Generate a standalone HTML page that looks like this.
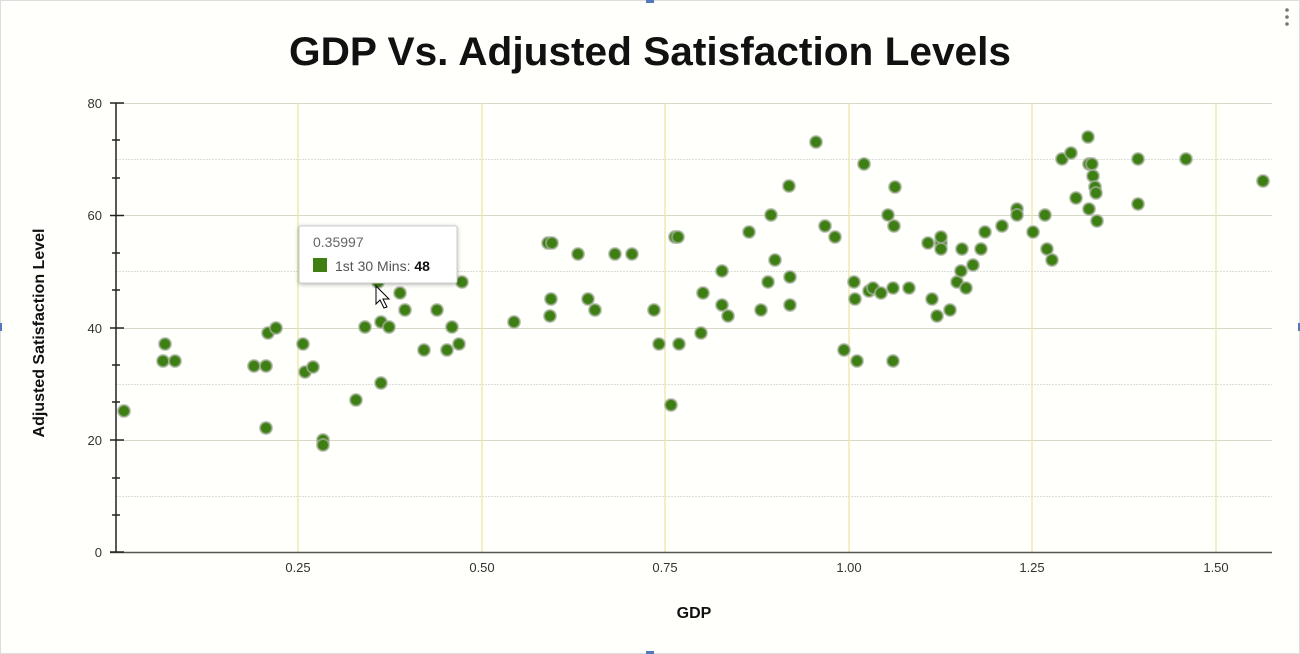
<!DOCTYPE html>
<html><head><meta charset="utf-8"><style>
html,body{margin:0;padding:0;background:#fff;}
body{width:1300px;height:654px;overflow:hidden;position:relative;font-family:"Liberation Sans",sans-serif;}
</style></head><body>
<svg width="1300" height="654" xmlns="http://www.w3.org/2000/svg" style="position:absolute;left:0;top:0">
<rect x="0.5" y="0.5" width="1299" height="653" fill="#fffffb" stroke="#ddd"/>
<rect x="646" y="0" width="8" height="3" fill="#5577bb"/>
<rect x="646" y="651" width="8" height="3" fill="#5577bb"/>
<rect x="0" y="323" width="2" height="8" fill="#5577bb"/>
<rect x="1298" y="323" width="2" height="8" fill="#5577bb"/>
<circle cx="1287" cy="10" r="1.8" fill="#777"/><circle cx="1287" cy="17" r="1.8" fill="#777"/><circle cx="1287" cy="24" r="1.8" fill="#777"/>
<text x="650" y="65" text-anchor="middle" font-size="40" font-weight="bold" fill="#111" textLength="722" lengthAdjust="spacingAndGlyphs">GDP Vs. Adjusted Satisfaction Levels</text>
<g stroke="#ddd" stroke-width="1" stroke-dasharray="2,1">
<line x1="116" x2="1272" y1="159.5" y2="159.5"/><line x1="116" x2="1272" y1="271.5" y2="271.5"/>
<line x1="116" x2="1272" y1="384.5" y2="384.5"/><line x1="116" x2="1272" y1="496.5" y2="496.5"/>
</g>
<g stroke="#d8d8c8" stroke-width="1">
<line x1="116" x2="1272" y1="103.5" y2="103.5"/><line x1="116" x2="1272" y1="215.5" y2="215.5"/>
<line x1="116" x2="1272" y1="328.5" y2="328.5"/><line x1="116" x2="1272" y1="440.5" y2="440.5"/>
</g>
<g stroke="#e8e4a0" stroke-width="1.2">
<line x1="298" x2="298" y1="103" y2="552"/><line x1="482" x2="482" y1="103" y2="552"/>
<line x1="665" x2="665" y1="103" y2="552"/><line x1="849" x2="849" y1="103" y2="552"/>
<line x1="1032" x2="1032" y1="103" y2="552"/><line x1="1216" x2="1216" y1="103" y2="552"/>
</g>
<g stroke="#222" stroke-width="1.5">
<line x1="116" x2="116" y1="103" y2="553"/>
<line x1="110" x2="1272" y1="552.5" y2="552.5" stroke="#555"/>
<line x1="110" x2="124" y1="103" y2="103"/><line x1="110" x2="124" y1="215.5" y2="215.5"/>
<line x1="110" x2="124" y1="328" y2="328"/><line x1="110" x2="124" y1="440" y2="440"/>
<line x1="110" x2="124" y1="552" y2="552"/>
<line x1="112" x2="120" y1="140" y2="140"/><line x1="112" x2="120" y1="178" y2="178"/>
<line x1="112" x2="120" y1="253" y2="253"/><line x1="112" x2="120" y1="290" y2="290"/>
<line x1="112" x2="120" y1="365" y2="365"/><line x1="112" x2="120" y1="402" y2="402"/>
<line x1="112" x2="120" y1="478" y2="478"/><line x1="112" x2="120" y1="515" y2="515"/>
</g>
<g font-size="13" fill="#333" text-anchor="end">
<text x="102" y="108">80</text><text x="102" y="220">60</text><text x="102" y="333">40</text><text x="102" y="445">20</text><text x="102" y="557">0</text>
</g>
<g font-size="13" fill="#333" text-anchor="middle">
<text x="298" y="572">0.25</text><text x="482" y="572">0.50</text><text x="665" y="572">0.75</text><text x="849" y="572">1.00</text><text x="1032" y="572">1.25</text><text x="1216" y="572">1.50</text>
</g>
<text x="694" y="618" text-anchor="middle" font-size="16" font-weight="bold" fill="#111">GDP</text>
<text transform="translate(44,333) rotate(-90)" text-anchor="middle" font-size="16" font-weight="bold" fill="#111">Adjusted Satisfaction Level</text>
<g id="pts"></g>
<g>
<rect x="299" y="226" width="158" height="57" fill="#fff" stroke="#ccc" rx="2" style="filter:drop-shadow(0 1px 2px rgba(0,0,0,.3))"/>
<text x="313" y="247" font-size="14" fill="#666">0.35997</text>
<rect x="313" y="258" width="14" height="14" fill="#3d7f12"/>
<text x="335" y="271" font-size="14" fill="#555">1st 30 Mins: <tspan font-weight="bold" fill="#111">48</tspan></text>
</g>
<path d="M376 286 L376 304 L380 300 L384 308 L387 307 L383 299 L389 299 Z" fill="#fff" stroke="#000" stroke-width="1"/>
</svg>
<script>
var p=[[124,411],[165,344],[163,361],[175,361],[254,366],[266,366],[268,333],[276,328],[266,428],[303,344],[305,372],[313,367],[323,440],[323,445],[356,400],[365,327],[381,322],[389,327],[381,383],[400,293],[405,310],[424,350],[437,310],[447,350],[452,327],[459,344],[462,282],[378,282],[514,322],[548,243],[552,243],[551,299],[550,316],[578,254],[588,299],[595,310],[615,254],[632,254],[654,310],[659,344],[675,237],[678,237],[671,405],[679,344],[701,333],[703,293],[722,271],[722,305],[728,316],[749,232],[761,310],[768,282],[771,215],[775,260],[789,186],[790,305],[790,277],[816,142],[825,226],[835,237],[844,350],[854,282],[855,299],[857,361],[864,164],[869,291],[873,288],[881,293],[888,215],[894,226],[895,187],[893,288],[893,361],[909,288],[928,243],[932,299],[937,316],[941,243],[941,249],[941,237],[950,310],[957,282],[961,271],[962,249],[966,288],[973,265],[981,249],[985,232],[1002,226],[1017,209],[1017,215],[1033,232],[1045,215],[1047,249],[1052,260],[1062,159],[1071,153],[1076,198],[1088,137],[1089,164],[1092,164],[1089,209],[1093,176],[1095,187],[1096,193],[1097,221],[1138,159],[1138,204],[1186,159],[1263,181]];
var g=document.getElementById('pts'),s='';
p.forEach(function(a){s+='<circle cx="'+a[0]+'" cy="'+a[1]+'" r="6" fill="#3d7f12" stroke="#a8b0a0" stroke-width="2" stroke-opacity="0.7"/>';});
g.innerHTML=s;
</script>
</body></html>
